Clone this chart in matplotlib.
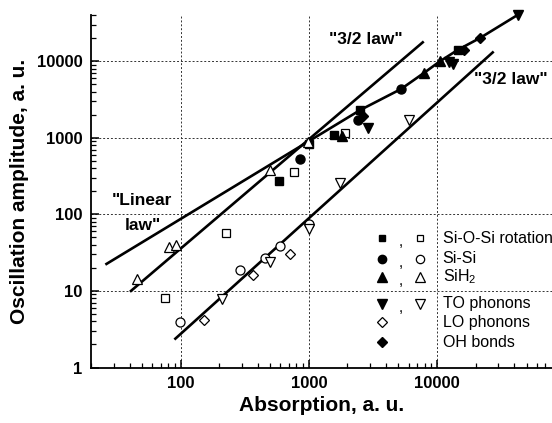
import matplotlib
matplotlib.use("Agg")
import matplotlib.pyplot as plt

plt.rcParams['font.family'] = ['Liberation Sans', 'DejaVu Sans']
plt.rcParams['mathtext.fontset'] = 'custom'
plt.rcParams['mathtext.rm'] = 'Liberation Sans'
plt.rcParams['mathtext.it'] = 'Liberation Sans'

# Data (absorption, oscillation amplitude)
sios_fill_x = [590, 1000, 1560, 2520, 14500]
sios_fill_y = [275, 820, 1100, 2300, 14000]
sios_open_x = [76, 227, 760, 1900]
sios_open_y = [8.0, 57, 360, 1170]

sisi_fill_x = [860, 2430, 5250]
sisi_fill_y = [520, 1700, 4330]
sisi_open_x = [98, 292, 452, 591, 1000]
sisi_open_y = [3.9, 19, 27, 39, 75]

sih2_fill_x = [1810, 7900, 10500]
sih2_fill_y = [1060, 7000, 9900]
sih2_open_x = [46, 81, 92, 500, 980]
sih2_open_y = [14.5, 37, 40, 380, 870]

to_fill_x = [2920, 12500, 13300, 43000]
to_fill_y = [1340, 9600, 9200, 40500]
to_open_x = [210, 500, 1010, 1760, 6100]
to_open_y = [7.9, 23.5, 64, 256, 1720]

lo_open_x = [151, 367, 708]
lo_open_y = [4.2, 16.2, 30]

oh_fill_x = [2650, 16100, 21700]
oh_fill_y = [1900, 14100, 20100]

# "Linear law" line, continued through the filled points
lin_x = [26.4, 2520, 5250, 7900, 10500, 14500, 21700, 43000]
lin_y = [22.5, 2300, 4330, 7000, 9900, 14000, 20100, 40500]
# "3/2 law" lines
up32_x = [41, 7740]
up32_y = [10, 17600]
lo32_x = [91, 27200]
lo32_y = [2.38, 13000]

fig = plt.figure(figsize=(5.52, 4.23), dpi=100)
ax = fig.add_axes([0.1649, 0.1312, 0.8351, 0.8333])
ax.set_xscale('log')
ax.set_yscale('log')
ax.set_xlim(20, 78900)
ax.set_ylim(1, 40000)

for v in [100, 1000, 10000]:
    ax.axvline(v, color='#333333', lw=0.7, ls=(0, (2, 2)), zorder=0)
for v in [10, 100, 1000, 10000]:
    ax.axhline(v, color='#333333', lw=0.7, ls=(0, (2, 2)), zorder=0)

lw = 1.9
ax.plot(lin_x, lin_y, color='black', lw=lw, zorder=2, clip_on=False)
ax.plot(up32_x, up32_y, color='black', lw=lw, zorder=2)
ax.plot(lo32_x, lo32_y, color='black', lw=lw, zorder=2)

sq, ci, tr, di = 5.5, 6.5, 7.5, 5.5
mk = dict(ls='none', zorder=3, clip_on=False)
op = dict(mfc='white', mec='black', mew=0.9)
ax.plot(sios_fill_x, sios_fill_y, marker='s', ms=sq, color='black', **mk)
ax.plot(sios_open_x, sios_open_y, marker='s', ms=sq, **op, **mk)
ax.plot(sisi_fill_x, sisi_fill_y, marker='o', ms=ci, color='black', **mk)
ax.plot(sisi_open_x, sisi_open_y, marker='o', ms=ci, **op, **mk)
ax.plot(sih2_fill_x, sih2_fill_y, marker='^', ms=tr, color='black', **mk)
ax.plot(sih2_open_x, sih2_open_y, marker='^', ms=tr, **op, **mk)
ax.plot(to_fill_x, to_fill_y, marker='v', ms=tr, color='black', **mk)
ax.plot(to_open_x, to_open_y, marker='v', ms=tr, **op, **mk)
ax.plot(lo_open_x, lo_open_y, marker='D', ms=di, **op, **mk)
ax.plot(oh_fill_x, oh_fill_y, marker='D', ms=di, color='black', **mk)

# annotations
tkw = dict(fontsize=12.5, fontweight='bold', ha='center', va='center')
ax.text(0.110, 0.473, '"Linear', transform=ax.transAxes, **tkw)
ax.text(0.113, 0.403, 'law"', transform=ax.transAxes, **tkw)
ax.text(0.597, 0.931, '"3/2 law"', transform=ax.transAxes, **tkw)
ax.text(0.911, 0.816, '"3/2 law"', transform=ax.transAxes, **tkw)

# legend drawn by hand
rows = [
    ('s', True, True, 'Si-O-Si rotation', 0.367, 5),
    ('o', True, True, 'Si-Si', 0.309, 6),
    ('^', True, True, 'SiH$_2$', 0.257, 7),
    ('v', True, True, 'TO phonons', 0.181, 7),
    ('D', False, False, 'LO phonons', 0.129, 5),
    ('D', True, False, 'OH bonds', 0.072, 5),
]
for m, filled, both, label, yy, size in rows:
    if filled:
        ax.plot([0.631], [yy], marker=m, ms=size, color='black', ls='none',
                transform=ax.transAxes, clip_on=False, zorder=4)
    else:
        ax.plot([0.631], [yy], marker=m, ms=size, **op, ls='none',
                transform=ax.transAxes, clip_on=False, zorder=4)
    if both:
        ax.text(0.672, yy - 0.012, ',', transform=ax.transAxes, fontsize=11,
                ha='center', va='center')
        ax.plot([0.714], [yy], marker=m, ms=size, **op, ls='none',
                transform=ax.transAxes, clip_on=False, zorder=4)
    ax.text(0.763, yy, label, transform=ax.transAxes, fontsize=11.5,
            ha='left', va='center')

ax.spines['top'].set_visible(False)
ax.spines['right'].set_visible(False)
ax.spines['left'].set_linewidth(1.3)
ax.spines['bottom'].set_linewidth(1.3)
ax.tick_params(which='both', direction='in', top=False, right=False)
ax.tick_params(which='major', length=6, width=1.1, labelsize=12, pad=6)
ax.tick_params(which='minor', length=3.5, width=0.9)
ax.set_xticks([100, 1000, 10000])
ax.set_xticklabels(['100', '1000', '10000'])
ax.set_yticks([1, 10, 100, 1000, 10000])
ax.set_yticklabels(['1', '10', '100', '1000', '10000'])
for lab in ax.get_xticklabels() + ax.get_yticklabels():
    lab.set_fontweight('bold')

ax.set_xlabel('Absorption, a. u.', fontsize=15, fontweight='bold', labelpad=4)
ax.set_ylabel('Oscillation amplitude, a. u.', fontsize=15, fontweight='bold', labelpad=6)

fig.savefig('out.png', dpi=100)
